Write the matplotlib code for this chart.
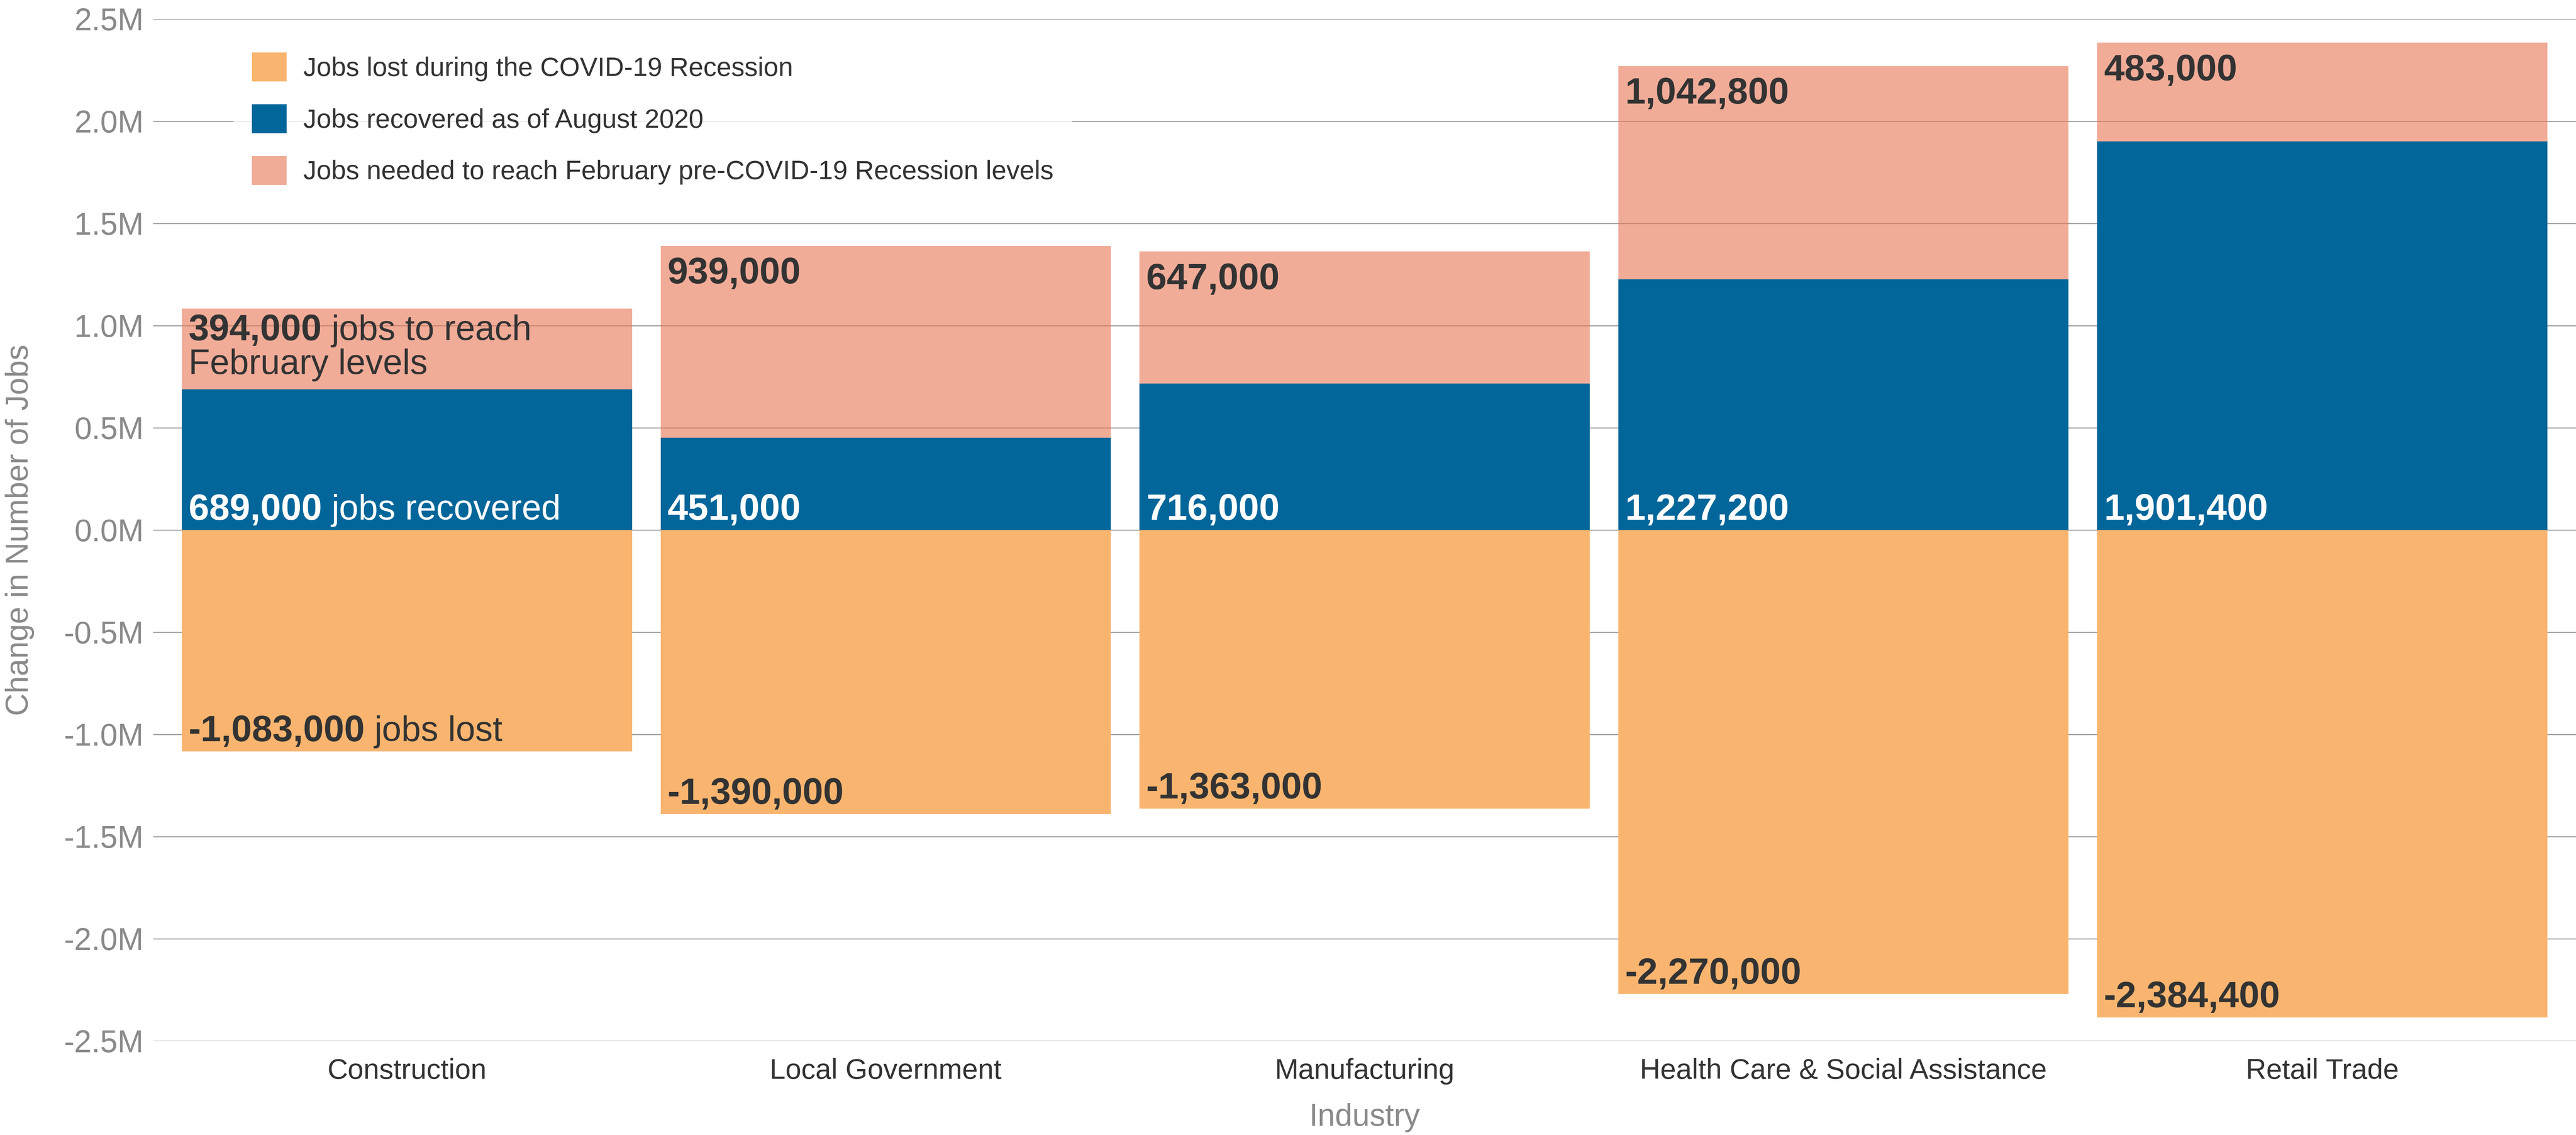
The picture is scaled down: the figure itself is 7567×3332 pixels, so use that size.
import matplotlib
matplotlib.use("Agg")
import matplotlib.pyplot as plt
from matplotlib.patches import Patch
from matplotlib.ticker import FuncFormatter

plt.rcParams['font.family'] = ['Liberation Sans', 'DejaVu Sans']

# ---------------- data ----------------
categories = ["Construction", "Local Government", "Manufacturing",
              "Health Care & Social Assistance", "Retail Trade"]
jobs_lost = [-1083000, -1390000, -1363000, -2270000, -2384400]
jobs_recovered = [689000, 451000, 716000, 1227200, 1901400]
jobs_needed = [394000, 939000, 647000, 1042800, 483000]

lost_suffix = ["jobs lost", "", "", "", ""]
recovered_suffix = ["jobs recovered", "", "", "", ""]
needed_suffix = ["jobs to reach", "", "", "", ""]
needed_line2 = ["February levels", "", "", "", ""]

legend_labels = ["Jobs lost during the COVID-19 Recession",
                 "Jobs recovered as of August 2020",
                 "Jobs needed to reach February pre-COVID-19 Recession levels"]
y_ticks = [-2500000, -2000000, -1500000, -1000000, -500000, 0,
           500000, 1000000, 1500000, 2000000, 2500000]
y_label = "Change in Number of Jobs"
x_label = "Industry"

# ---------------- style ----------------
ORANGE = "#F9B56F"
BLUE = "#02669A"
PINK = "#E97553"
PINK_ALPHA = 0.6
DARK = "#333333"
GRAY = "#8a8a8a"

W, H, DPI = 7567, 3332, 200
fig = plt.figure(figsize=(W / DPI, H / DPI), dpi=DPI)
ax = fig.add_axes([450 / W, 1 - 3056 / H, (W - 450) / W, 3000 / H])

xs = list(range(len(categories)))
bw = 0.94
ax.bar(xs, jobs_lost, width=bw, color=ORANGE, zorder=2)
ax.bar(xs, jobs_recovered, width=bw, color=BLUE, zorder=2)
ax.bar(xs, jobs_needed, width=bw, bottom=jobs_recovered, color=PINK,
       alpha=PINK_ALPHA, zorder=2)

ax.set_xlim(-0.53, len(categories) - 1 + 0.53)
ax.set_ylim(y_ticks[0], y_ticks[-1])
ax.set_yticks(y_ticks)
ax.yaxis.set_major_formatter(FuncFormatter(lambda v, p: f"{v / 1e6:.1f}M"))
ax.yaxis.grid(True, color="#a0a0a0", linewidth=1.1)
ax.set_axisbelow(True)
for s in ax.spines.values():
    s.set_visible(False)
ax.tick_params(axis="y", length=0, pad=10, labelsize=33, labelcolor=GRAY)
ax.set_xticks(xs)
ax.set_xticklabels(categories, fontsize=30, color=DARK)
ax.tick_params(axis="x", length=0, pad=18)

FS_B = 39
FS_R = 37


def add_label(xc, y, num, suffix, color, va, dy):
    t1 = ax.annotate(f"{num:,}", xy=(xc - bw / 2, y), xytext=(7, dy),
                     textcoords="offset points", ha="left", va=va,
                     fontsize=FS_B, fontweight="bold", color=color, zorder=5)
    if suffix:
        ax.annotate(suffix, xy=(1, 0), xycoords=t1, xytext=(10, 0),
                    textcoords="offset points", ha="left", va="bottom",
                    fontsize=FS_R, color=color, zorder=5)
    return t1


for i in xs:
    top = jobs_recovered[i] + jobs_needed[i]
    dy = -5 if needed_line2[i] else -11.5
    t = add_label(i, top, jobs_needed[i], needed_suffix[i], DARK, "top", dy)
    if needed_line2[i]:
        ax.annotate(needed_line2[i], xy=(0, 0), xycoords=t, xytext=(0, -28),
                    textcoords="offset points", ha="left", va="baseline",
                    fontsize=FS_R, color=DARK, zorder=5)
    add_label(i, 0, jobs_recovered[i], recovered_suffix[i], "white", "baseline", 11)
    add_label(i, jobs_lost[i], jobs_lost[i], lost_suffix[i], DARK, "baseline", 11)

handles = [Patch(facecolor=ORANGE), Patch(facecolor=BLUE),
           Patch(facecolor=PINK, alpha=PINK_ALPHA)]
ax.legend(handles, legend_labels, loc="upper left",
          bbox_to_anchor=(686 / W, 1 - 100 / H), bbox_transform=fig.transFigure,
          fontsize=28, labelcolor=DARK, frameon=True, framealpha=0.8,
          facecolor="white", edgecolor="none", fancybox=False,
          borderpad=0.7, handlelength=1.3, handleheight=1.3,
          handletextpad=0.63, labelspacing=0.86, borderaxespad=0)

fig.text(15 / W, 1 - 1556 / H, y_label, rotation=90, ha="left", va="center",
         fontsize=33, color=GRAY)
fig.text(4008 / W, 1 - 3305 / H, x_label, ha="center", va="baseline",
         fontsize=33, color=GRAY)

fig.savefig("out.png", dpi=DPI)
